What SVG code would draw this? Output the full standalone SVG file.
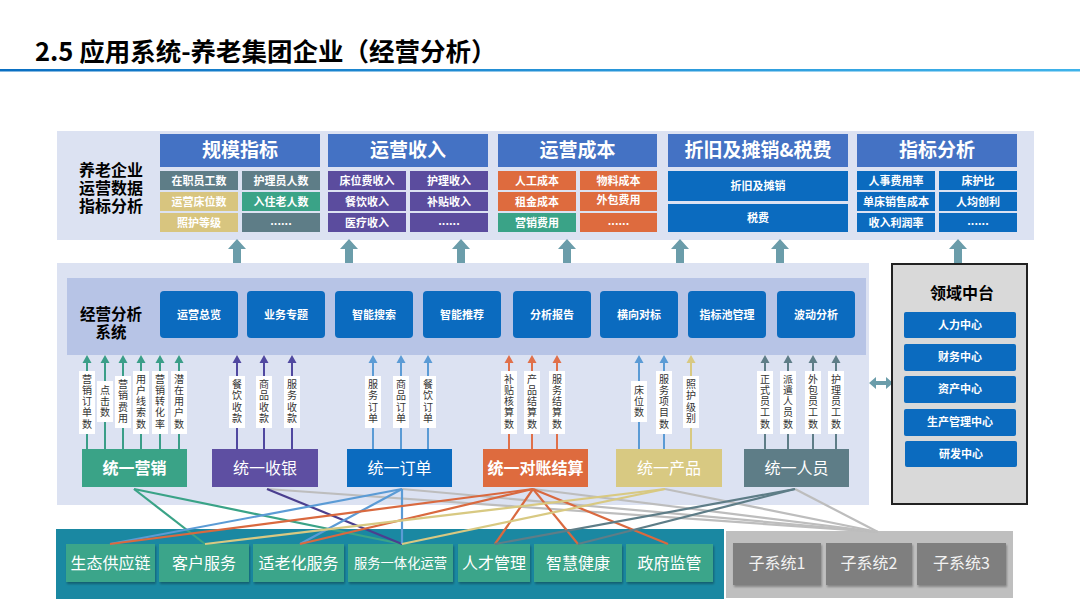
<svg xmlns="http://www.w3.org/2000/svg" width="1080" height="608" viewBox="0 0 1080 608">
<defs>
<linearGradient id="tl" x1="0" x2="1" y1="0" y2="0"><stop offset="0" stop-color="#0a6fc2"/><stop offset="1" stop-color="#3fb3ea"/></linearGradient>
<filter id="sh" x="-10%" y="-10%" width="130%" height="140%"><feDropShadow dx="1" dy="2" stdDeviation="1" flood-color="#000" flood-opacity="0.3"/></filter>
</defs>
<style>
text{font-family:"Noto Sans CJK SC","Noto Sans",sans-serif}
.t{font-weight:700;fill:#000}
.hd{fill:#4472c4}
.hdt{fill:#fff;font-size:19px;font-weight:700;text-anchor:middle}
.ct{fill:#fff;font-size:11px;font-weight:700;text-anchor:middle}
.fb{fill:#0b6bbf}
.ft{fill:#fff;font-size:11px;font-weight:700;text-anchor:middle}
.lb{fill:#fff}
.lt{fill:#333;font-size:10px;text-anchor:middle;writing-mode:vertical-rl;letter-spacing:1.3px}
.ut{fill:#fff;font-size:16px;text-anchor:middle}
.bb{fill:#3ba58a;filter:url(#sh)}
.bt{fill:#fff;font-size:16px;text-anchor:middle}
.gt{fill:#f2f2f2;font-size:16px;text-anchor:middle}
.gb{fill:#7f7f7f;filter:url(#sh)}
.big{fill:#6b9daa}
.cn{fill:none;stroke-width:2.2}
</style>
<rect width="1080" height="608" fill="#fff"/>
<g id="title">
<text x="35" y="61" font-size="25.5" class="t">2.5 应用系统-养老集团企业（经营分析）</text>
<rect x="0" y="69" width="1080" height="2.5" fill="url(#tl)"/>
</g>

<g id="top-panel">
<rect x="57" y="131" width="977" height="109" fill="#dce2f2"/>
<text class="t" font-size="16" x="111" y="176" text-anchor="middle"><tspan x="111">养老企业</tspan><tspan x="111" dy="18">运营数据</tspan><tspan x="111" dy="18">指标分析</tspan></text>
</g>

<g id="scale">
<rect class="hd" x="160" y="134" width="160" height="33"/>
<text class="hdt" x="240" y="157">规模指标</text>
<rect x="160" y="171" width="78" height="19" fill="#5e7d87"/><text class="ct" x="199" y="184.5">在职员工数</text>
<rect x="242" y="171" width="78" height="19" fill="#5e7d87"/><text class="ct" x="281" y="184.5">护理员人数</text>
<rect x="160" y="192" width="78" height="19" fill="#d8c57f"/><text class="ct" x="199" y="205.5">运营床位数</text>
<rect x="242" y="192" width="78" height="19" fill="#3aa387"/><text class="ct" x="281" y="205.5">入住老人数</text>
<rect x="160" y="213" width="78" height="19" fill="#d8c57f"/><text class="ct" x="199" y="226.5">照护等级</text>
<rect x="242" y="213" width="78" height="19" fill="#5e7d87"/><text class="ct" x="281" y="225">......</text>
</g>

<g id="revenue">
<rect class="hd" x="328" y="134" width="160" height="33"/>
<text class="hdt" x="408" y="157">运营收入</text>
<rect x="328" y="171" width="78" height="19" fill="#5b4c9e"/><text class="ct" x="367" y="184.5">床位费收入</text>
<rect x="410" y="171" width="78" height="19" fill="#5b4c9e"/><text class="ct" x="449" y="184.5">护理收入</text>
<rect x="328" y="192" width="78" height="19" fill="#5b4c9e"/><text class="ct" x="367" y="205.5">餐饮收入</text>
<rect x="410" y="192" width="78" height="19" fill="#5b4c9e"/><text class="ct" x="449" y="205.5">补贴收入</text>
<rect x="328" y="213" width="78" height="19" fill="#5b4c9e"/><text class="ct" x="367" y="226.5">医疗收入</text>
<rect x="410" y="213" width="78" height="19" fill="#5b4c9e"/><text class="ct" x="449" y="225">......</text>
</g>

<g id="cost">
<rect class="hd" x="498" y="134" width="159" height="33"/>
<text class="hdt" x="577.5" y="157">运营成本</text>
<rect x="498" y="171" width="78" height="19" fill="#de6b3e"/><text class="ct" x="537" y="184.5">人工成本</text>
<rect x="580" y="171" width="77" height="19" fill="#de6b3e"/><text class="ct" x="618.5" y="184.5">物料成本</text>
<rect x="498" y="192" width="78" height="19" fill="#de6b3e"/><text class="ct" x="537" y="205.5">租金成本</text>
<rect x="580" y="192" width="77" height="19" fill="#de6b3e"/><text class="ct" x="618.5" y="204">外包费用</text>
<rect x="498" y="213" width="78" height="19" fill="#3aa387"/><text class="ct" x="537" y="226.5">营销费用</text>
<rect x="580" y="213" width="77" height="19" fill="#de6b3e"/><text class="ct" x="618.5" y="225">......</text>
</g>

<g id="depr">
<rect class="hd" x="668" y="134" width="180" height="33"/>
<text class="hdt" x="758" y="157">折旧及摊销&amp;税费</text>
<rect x="668" y="171" width="180" height="30" fill="#0b6bbf"/><text class="ct" x="758" y="190">折旧及摊销</text>
<rect x="668" y="204" width="180" height="28" fill="#0b6bbf"/><text class="ct" x="758" y="222">税费</text>
</g>

<g id="indicator">
<rect class="hd" x="857" y="134" width="160" height="33"/>
<text class="hdt" x="937" y="157">指标分析</text>
<rect x="857" y="171" width="78" height="19" fill="#0b6bbf"/><text class="ct" x="896" y="184.5">人事费用率</text>
<rect x="939" y="171" width="78" height="19" fill="#0b6bbf"/><text class="ct" x="978" y="184.5">床护比</text>
<rect x="857" y="192" width="78" height="19" fill="#0b6bbf"/><text class="ct" x="896" y="205.5">单床销售成本</text>
<rect x="939" y="192" width="78" height="19" fill="#0b6bbf"/><text class="ct" x="978" y="205.5">人均创利</text>
<rect x="857" y="213" width="78" height="19" fill="#0b6bbf"/><text class="ct" x="896" y="226.5">收入利润率</text>
<rect x="939" y="213" width="78" height="19" fill="#0b6bbf"/><text class="ct" x="978" y="225">......</text>
</g>

<g id="big-arrows">
<path class="big" d="M237 239 L246 249 L241 249 L241 263 L233 263 L233 249 L228 249 Z"/>
<path class="big" d="M349 239 L358 249 L353 249 L353 263 L345 263 L345 249 L340 249 Z"/>
<path class="big" d="M461 239 L470 249 L465 249 L465 263 L457 263 L457 249 L452 249 Z"/>
<path class="big" d="M567 239 L576 249 L571 249 L571 263 L563 263 L563 249 L558 249 Z"/>
<path class="big" d="M680 239 L689 249 L684 249 L684 263 L676 263 L676 249 L671 249 Z"/>
<path class="big" d="M780 239 L789 249 L784 249 L784 263 L776 263 L776 249 L771 249 Z"/>
<path class="big" d="M958 239 L967 249 L962 249 L962 264 L954 264 L954 249 L949 249 Z"/>
<path class="big" d="M869 383 L876 377 L876 381 L886 381 L886 377 L893 383 L886 389 L886 385 L876 385 L876 389 Z"/>
</g>

<g id="mid-panel">
<rect x="57" y="263" width="812" height="242" fill="#dce2f2"/>
<rect x="67" y="278" width="799" height="77" fill="#b7c4e6"/>
<text class="t" font-size="15.5" x="111" y="320" text-anchor="middle"><tspan x="111">经营分析</tspan><tspan x="111" dy="18">系统</tspan></text>
</g>

<g id="functions">
<rect class="fb" x="160" y="291" width="78" height="47" rx="4"/><text class="ft" x="199" y="319">运营总览</text>
<rect class="fb" x="247" y="291" width="78" height="47" rx="4"/><text class="ft" x="286" y="319">业务专题</text>
<rect class="fb" x="335" y="291" width="78" height="47" rx="4"/><text class="ft" x="374" y="319">智能搜索</text>
<rect class="fb" x="423" y="291" width="78" height="47" rx="4"/><text class="ft" x="462" y="319">智能推荐</text>
<rect class="fb" x="513" y="291" width="78" height="47" rx="4"/><text class="ft" x="552" y="319">分析报告</text>
<rect class="fb" x="600" y="291" width="78" height="47" rx="4"/><text class="ft" x="639" y="319">横向对标</text>
<rect class="fb" x="688" y="291" width="78" height="47" rx="4"/><text class="ft" x="727" y="319">指标池管理</text>
<rect class="fb" x="777" y="291" width="78" height="47" rx="4"/><text class="ft" x="816" y="319">波动分析</text>
</g>

<g id="data-arrows" stroke-width="2">
<g stroke="#3a9e88" fill="#3a9e88">
<line x1="87" y1="449" x2="87" y2="360"/><path d="M87 355 L91.5 363 L82.5 363 Z" stroke="none"/>
<line x1="105" y1="449" x2="105" y2="360"/><path d="M105 355 L109.5 363 L100.5 363 Z" stroke="none"/>
<line x1="123" y1="449" x2="123" y2="360"/><path d="M123 355 L127.5 363 L118.5 363 Z" stroke="none"/>
<line x1="141" y1="449" x2="141" y2="360"/><path d="M141 355 L145.5 363 L136.5 363 Z" stroke="none"/>
<line x1="160" y1="449" x2="160" y2="360"/><path d="M160 355 L164.5 363 L155.5 363 Z" stroke="none"/>
<line x1="179" y1="449" x2="179" y2="360"/><path d="M179 355 L183.5 363 L174.5 363 Z" stroke="none"/>
</g>
<g stroke="#5048a0" fill="#5048a0">
<line x1="237" y1="449" x2="237" y2="360"/><path d="M237 355 L241.5 363 L232.5 363 Z" stroke="none"/>
<line x1="264" y1="449" x2="264" y2="360"/><path d="M264 355 L268.5 363 L259.5 363 Z" stroke="none"/>
<line x1="292" y1="449" x2="292" y2="360"/><path d="M292 355 L296.5 363 L287.5 363 Z" stroke="none"/>
</g>
<g stroke="#5b9bd5" fill="#5b9bd5">
<line x1="373" y1="449" x2="373" y2="360"/><path d="M373 355 L377.5 363 L368.5 363 Z" stroke="none"/>
<line x1="401" y1="449" x2="401" y2="360"/><path d="M401 355 L405.5 363 L396.5 363 Z" stroke="none"/>
<line x1="428" y1="449" x2="428" y2="360"/><path d="M428 355 L432.5 363 L423.5 363 Z" stroke="none"/>
<line x1="639" y1="449" x2="639" y2="360"/><path d="M639 355 L643.5 363 L634.5 363 Z" stroke="none"/>
<line x1="664" y1="449" x2="664" y2="360"/><path d="M664 355 L668.5 363 L659.5 363 Z" stroke="none"/>
</g>
<g stroke="#e0704a" fill="#e0704a">
<line x1="509" y1="449" x2="509" y2="360"/><path d="M509 355 L513.5 363 L504.5 363 Z" stroke="none"/>
<line x1="532" y1="449" x2="532" y2="360"/><path d="M532 355 L536.5 363 L527.5 363 Z" stroke="none"/>
<line x1="557" y1="449" x2="557" y2="360"/><path d="M557 355 L561.5 363 L552.5 363 Z" stroke="none"/>
</g>
<g stroke="#d8c982" fill="#d8c982">
<line x1="691" y1="449" x2="691" y2="360"/><path d="M691 355 L695.5 363 L686.5 363 Z" stroke="none"/>
</g>
<g stroke="#5e7d87" fill="#5e7d87">
<line x1="765" y1="449" x2="765" y2="360"/><path d="M765 355 L769.5 363 L760.5 363 Z" stroke="none"/>
<line x1="788" y1="449" x2="788" y2="360"/><path d="M788 355 L792.5 363 L783.5 363 Z" stroke="none"/>
<line x1="813" y1="449" x2="813" y2="360"/><path d="M813 355 L817.5 363 L808.5 363 Z" stroke="none"/>
<line x1="836" y1="449" x2="836" y2="360"/><path d="M836 355 L840.5 363 L831.5 363 Z" stroke="none"/>
</g>
</g>

<g id="data-labels">
<rect class="lb" x="79" y="371" width="16" height="63"/><text class="lt" x="87" y="402">营销订单数</text>
<rect class="lb" x="97" y="381" width="16" height="41"/><text class="lt" x="105" y="402">点击数</text>
<rect class="lb" x="115" y="376" width="16" height="52"/><text class="lt" x="123" y="402">营销费用</text>
<rect class="lb" x="133" y="371" width="16" height="63"/><text class="lt" x="141" y="402">用户线索数</text>
<rect class="lb" x="152" y="371" width="16" height="63"/><text class="lt" x="160" y="402">营销转化率</text>
<rect class="lb" x="171" y="371" width="16" height="63"/><text class="lt" x="179" y="402">潜在用户数</text>

<rect class="lb" x="229" y="376" width="16" height="52"/><text class="lt" x="237" y="402">餐饮收款</text>
<rect class="lb" x="256" y="376" width="16" height="52"/><text class="lt" x="264" y="402">商品收款</text>
<rect class="lb" x="284" y="376" width="16" height="52"/><text class="lt" x="292" y="402">服务收款</text>

<rect class="lb" x="365" y="376" width="16" height="52"/><text class="lt" x="373" y="402">服务订单</text>
<rect class="lb" x="393" y="376" width="16" height="52"/><text class="lt" x="401" y="402">商品订单</text>
<rect class="lb" x="420" y="376" width="16" height="52"/><text class="lt" x="428" y="402">餐饮订单</text>

<rect class="lb" x="501" y="371" width="16" height="63"/><text class="lt" x="509" y="402">补贴核算数</text>
<rect class="lb" x="524" y="371" width="16" height="63"/><text class="lt" x="532" y="402">产品结算数</text>
<rect class="lb" x="549" y="371" width="16" height="63"/><text class="lt" x="557" y="402">服务结算数</text>

<rect class="lb" x="631" y="381" width="16" height="41"/><text class="lt" x="639" y="402">床位数</text>
<rect class="lb" x="656" y="371" width="16" height="63"/><text class="lt" x="664" y="402">服务项目数</text>
<rect class="lb" x="683" y="376" width="16" height="52"/><text class="lt" x="691" y="402">照护级别</text>

<rect class="lb" x="757" y="371" width="16" height="63"/><text class="lt" x="765" y="402">正式员工数</text>
<rect class="lb" x="780" y="371" width="16" height="63"/><text class="lt" x="788" y="402">派遣人员数</text>
<rect class="lb" x="805" y="371" width="16" height="63"/><text class="lt" x="813" y="402">外包员工数</text>
<rect class="lb" x="828" y="371" width="16" height="63"/><text class="lt" x="836" y="402">护理员工数</text>
</g>

<g id="unified">
<g id="u-marketing"><rect x="82" y="449" width="105" height="38" fill="#3aa387"/><text class="ut" x="134.5" y="474" font-weight="700">统一营销</text></g>
<g id="u-cashier"><rect x="212" y="449" width="106" height="38" fill="#5e4fa2"/><text class="ut" x="265" y="474">统一收银</text></g>
<g id="u-order"><rect x="347" y="449" width="105" height="38" fill="#0b6bbf"/><text class="ut" x="399.5" y="474">统一订单</text></g>
<g id="u-settle"><rect x="483" y="449" width="105" height="38" fill="#de6b3e"/><text class="ut" x="535.5" y="474" font-weight="700">统一对账结算</text></g>
<g id="u-product"><rect x="616" y="449" width="106" height="38" fill="#d8c982"/><text class="ut" x="669" y="474">统一产品</text></g>
<g id="u-staff"><rect x="744" y="449" width="105" height="38" fill="#5e7d87"/><text class="ut" x="796.5" y="474">统一人员</text></g>
</g>

<g id="domain">
<rect x="892" y="264" width="135" height="240" fill="#d9d9d9" stroke="#222" stroke-width="2"/>
<text class="t" font-size="16" x="962" y="299" text-anchor="middle">领域中台</text>
<rect class="fb" x="904" y="312" width="112" height="26" rx="2"/><text class="ft" x="960" y="329">人力中心</text>
<rect class="fb" x="904" y="344" width="112" height="27" rx="2"/><text class="ft" x="960" y="361">财务中心</text>
<rect class="fb" x="904" y="376" width="112" height="27" rx="2"/><text class="ft" x="960" y="393">资产中心</text>
<rect class="fb" x="904" y="409" width="112" height="27" rx="2"/><text class="ft" x="960" y="426">生产管理中心</text>
<rect class="fb" x="905" y="441" width="112" height="26" rx="2"/><text class="ft" x="961" y="458">研发中心</text>
</g>

<g id="bottom">
<rect x="56" y="529" width="668" height="70" fill="#1a88a2"/>
<rect x="726" y="531" width="287" height="67" fill="#bfbfbf"/>
<g id="b1"><rect class="bb" x="66" y="544" width="89" height="38"/><text class="bt" x="110.5" y="569">生态供应链</text></g>
<g id="b2"><rect class="bb" x="159" y="544" width="90" height="38"/><text class="bt" x="204" y="569">客户服务</text></g>
<g id="b3"><rect class="bb" x="253" y="544" width="91" height="38"/><text class="bt" x="298.5" y="569">适老化服务</text></g>
<g id="b4"><rect class="bb" x="348" y="544" width="105" height="38"/><text class="bt" x="400.5" y="568" style="font-size:13.3px">服务一体化运营</text></g>
<g id="b5"><rect class="bb" x="458" y="544" width="72" height="38"/><text class="bt" x="494" y="569">人才管理</text></g>
<g id="b6"><rect class="bb" x="534" y="544" width="88" height="38"/><text class="bt" x="578" y="569">智慧健康</text></g>
<g id="b7"><rect class="bb" x="626" y="544" width="87" height="38"/><text class="bt" x="669.5" y="569">政府监管</text></g>
<g id="s1"><rect class="gb" x="733" y="543" width="88" height="42"/><text class="gt" x="777" y="569">子系统1</text></g>
<g id="s2"><rect class="gb" x="826" y="543" width="86" height="42"/><text class="gt" x="869" y="569">子系统2</text></g>
<g id="s3"><rect class="gb" x="917" y="543" width="89" height="42"/><text class="gt" x="961.5" y="569">子系统3</text></g>
</g>

<g id="connectors">
<g stroke="#bdbdbd" class="cn">
<line x1="267" y1="489" x2="878" y2="532"/>
<line x1="402" y1="489" x2="878" y2="532"/>
<line x1="533" y1="489" x2="878" y2="532"/>
<line x1="665" y1="489" x2="878" y2="532"/>
<line x1="795" y1="489" x2="878" y2="532"/>
</g>
<g stroke="#3aa387" class="cn">
<line x1="134" y1="489" x2="205" y2="544"/>
<line x1="134" y1="489" x2="402" y2="544"/>
</g>
<g stroke="#4b3f8f" class="cn"><line x1="267" y1="489" x2="402" y2="544"/></g>
<g stroke="#5b9bd5" class="cn">
<line x1="402" y1="489" x2="110" y2="544"/>
<line x1="402" y1="489" x2="300" y2="544"/>
<line x1="402" y1="489" x2="402" y2="544"/>
</g>
<g stroke="#d9693f" class="cn">
<line x1="533" y1="489" x2="110" y2="544"/>
<line x1="533" y1="489" x2="300" y2="544"/>
<line x1="533" y1="489" x2="495" y2="544"/>
<line x1="533" y1="489" x2="578" y2="544"/>
<line x1="533" y1="489" x2="668" y2="544"/>
</g>
<g stroke="#d8c982" class="cn">
<line x1="665" y1="489" x2="205" y2="544"/>
<line x1="665" y1="489" x2="402" y2="544"/>
</g>
<g stroke="#5e7d87" class="cn">
<line x1="795" y1="489" x2="495" y2="544"/>
<line x1="795" y1="489" x2="578" y2="544"/>
</g>
</g>
</svg>
